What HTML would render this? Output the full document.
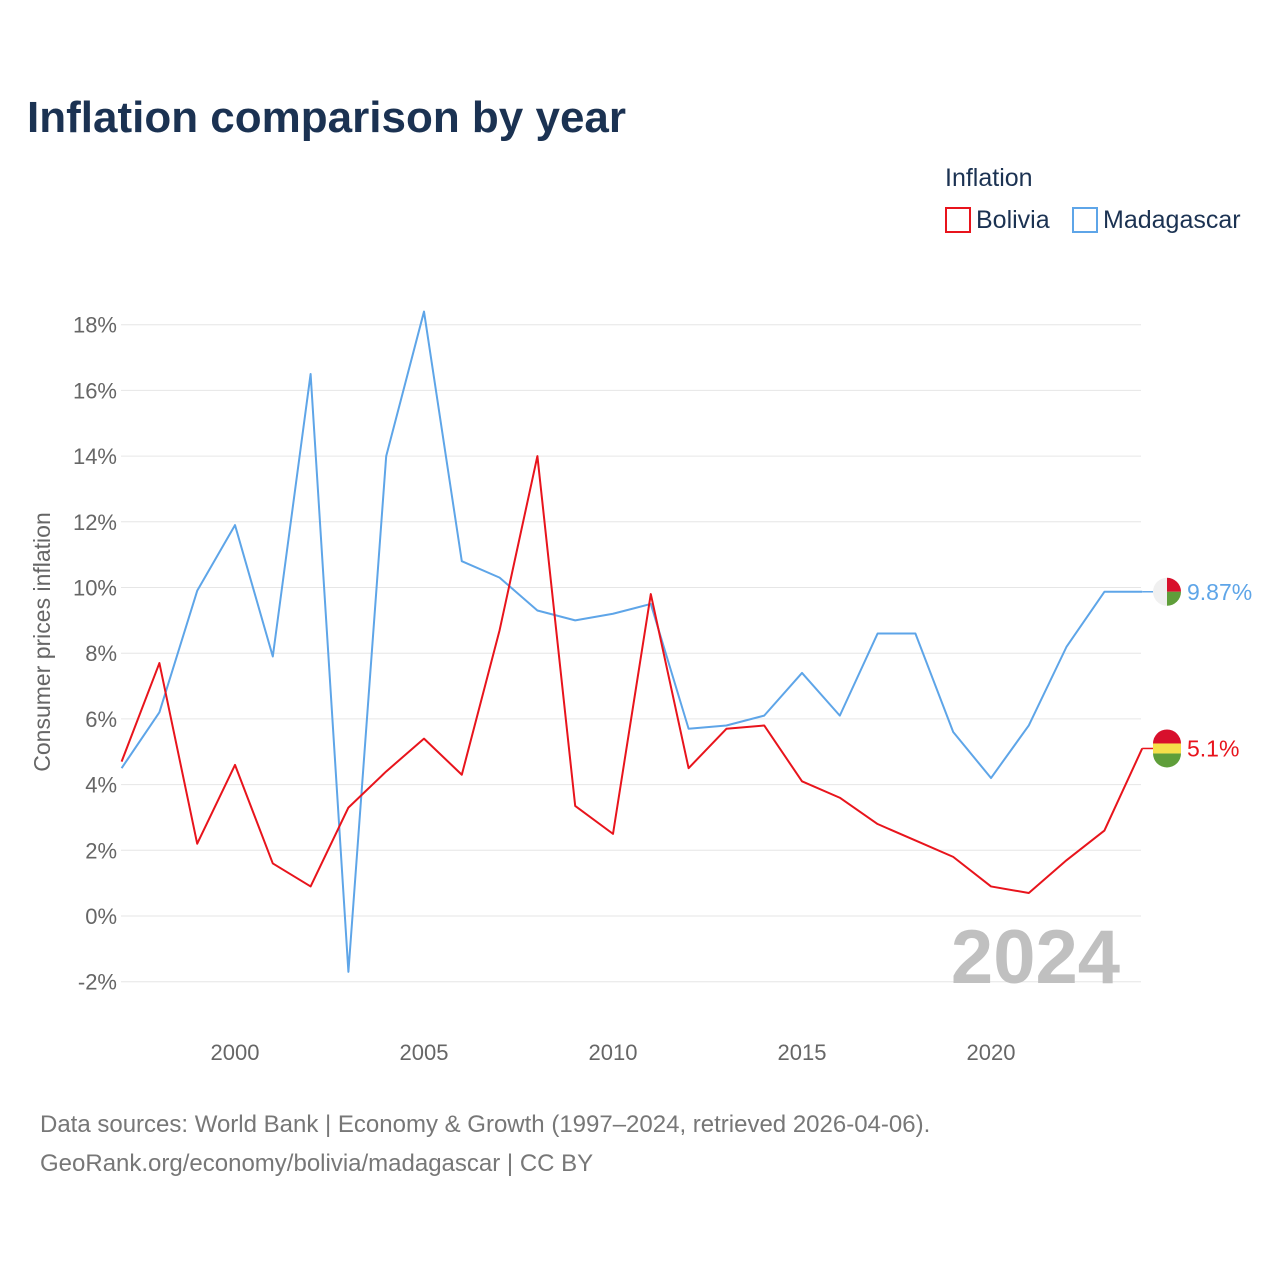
<!DOCTYPE html>
<html><head><meta charset="utf-8"><style>
body{margin:0;background:#fff;font-family:"Liberation Sans",sans-serif;}
</style></head><body>
<svg width="1280" height="1280" xmlns="http://www.w3.org/2000/svg" font-family="Liberation Sans, sans-serif">
<text x="27" y="132" font-size="44" font-weight="bold" fill="#1b3252">Inflation comparison by year</text>
<text x="945" y="186" font-size="25" fill="#1b3252">Inflation</text>
<g><rect x="946" y="208" width="24" height="24" fill="none" stroke="#e8141c" stroke-width="2"/><text x="976" y="228" font-size="25" fill="#1b3252">Bolivia</text></g>
<g><rect x="1073" y="208" width="24" height="24" fill="none" stroke="#5ea5e8" stroke-width="2"/><text x="1103" y="228" font-size="25" fill="#1b3252">Madagascar</text></g>
<text transform="translate(50,642) rotate(-90)" text-anchor="middle" font-size="23" fill="#666">Consumer prices inflation</text>
<g id="grid"></g><g id="yt"></g><g id="xt"></g>
<text x="1120" y="983" text-anchor="end" font-size="76" font-weight="bold" fill="#c0c0c0">2024</text>
<g id="series"></g>
<text x="40" y="1132" font-size="24" fill="#777">Data sources: World Bank | Economy &amp; Growth (1997–2024, retrieved 2026-04-06).</text>
<text x="40" y="1171" font-size="24" fill="#777">GeoRank.org/economy/bolivia/madagascar | CC BY</text>
</svg>
<script>
const years=[1997,1998,1999,2000,2001,2002,2003,2004,2005,2006,2007,2008,2009,2010,2011,2012,2013,2014,2015,2016,2017,2018,2019,2020,2021,2022,2023,2024];
const madagascar=[4.5,6.2,9.9,11.9,7.9,16.5,-1.7,14.0,18.4,10.8,10.3,9.3,9.0,9.2,9.5,5.7,5.8,6.1,7.4,6.1,8.6,8.6,5.6,4.2,5.8,8.2,9.87,9.87];
const bolivia=[4.7,7.7,2.2,4.6,1.6,0.9,3.3,4.4,5.4,4.3,8.7,14.0,3.35,2.5,9.8,4.5,5.7,5.8,4.1,3.6,2.8,2.3,1.8,0.9,0.7,1.7,2.6,5.1];
const yTicks=[-2,0,2,4,6,8,10,12,14,16,18];
const xTicks=[2000,2005,2010,2015,2020];
const NS="http://www.w3.org/2000/svg";
const X=y=>121.6+(y-1997)*37.8;
const Y=v=>916-v*32.85;
function mk(t,a,p){const e=document.createElementNS(NS,t);for(const k in a)e.setAttribute(k,a[k]);p.appendChild(e);return e;}
const grid=document.getElementById('grid'),yt=document.getElementById('yt'),xt=document.getElementById('xt'),ser=document.getElementById('series');
yTicks.forEach(v=>{
 const l=mk('line',{x1:121,x2:1141,y1:Y(v),y2:Y(v),stroke:'#e6e6e6','stroke-width':1},grid);
 
 
 const t=mk('text',{x:117,y:Y(v)+8,'text-anchor':'end','font-size':22,fill:'#666'},yt);
 t.textContent=v+'%';
 
 
});
xTicks.forEach(v=>{
 const t=mk('text',{x:X(v),y:1060,'text-anchor':'middle','font-size':22,fill:'#666'},xt);
 t.textContent=v;
 
 
});
function line(vals,col,name,label){
 const d=vals.map((v,i)=>(i?'L':'M')+X(years[i])+','+Y(v)).join('');
 const p=mk('path',{d:d,fill:'none',stroke:col,'stroke-width':2,'stroke-linejoin':'round'},ser);
 
 
 const last=vals[vals.length-1],ly=Y(last);
 const c=mk('line',{x1:X(2024),x2:1153,y1:ly,y2:ly,stroke:col,'stroke-width':1.5},ser);
 
 
 const t=mk('text',{x:1187,y:ly+8,'font-size':23,fill:col},ser);
 t.textContent=label;
 
 
 return ly;
}
const my=line(madagascar,'#5ea5e8','madagascar','9.87%');
const by=line(bolivia,'#e8141c','bolivia','5.1%');
// flags
let g=mk('g',{},ser);


mk('circle',{cx:1167,cy:my,r:14,fill:'#f0f0f0'},g);
mk('path',{d:`M1167,${my-14}A14,14 0 0 1 1181,${my}L1167,${my}Z`,fill:'#d8102c'},g);
mk('path',{d:`M1167,${my}L1181,${my}A14,14 0 0 1 1167,${my+14}Z`,fill:'#5f9e3a'},g);
g=mk('g',{},ser);


mk('path',{d:`M1153,${by-5}A14,14 0 0 1 1181,${by-5}Z`,fill:'#d8102c'},g);
mk('rect',{x:1153,y:by-5,width:28,height:10,fill:'#f5e04a'},g);
mk('path',{d:`M1153,${by+5}L1181,${by+5}A14,14 0 0 1 1153,${by+5}Z`,fill:'#5f9e3a'},g);
</script>
</body></html>
